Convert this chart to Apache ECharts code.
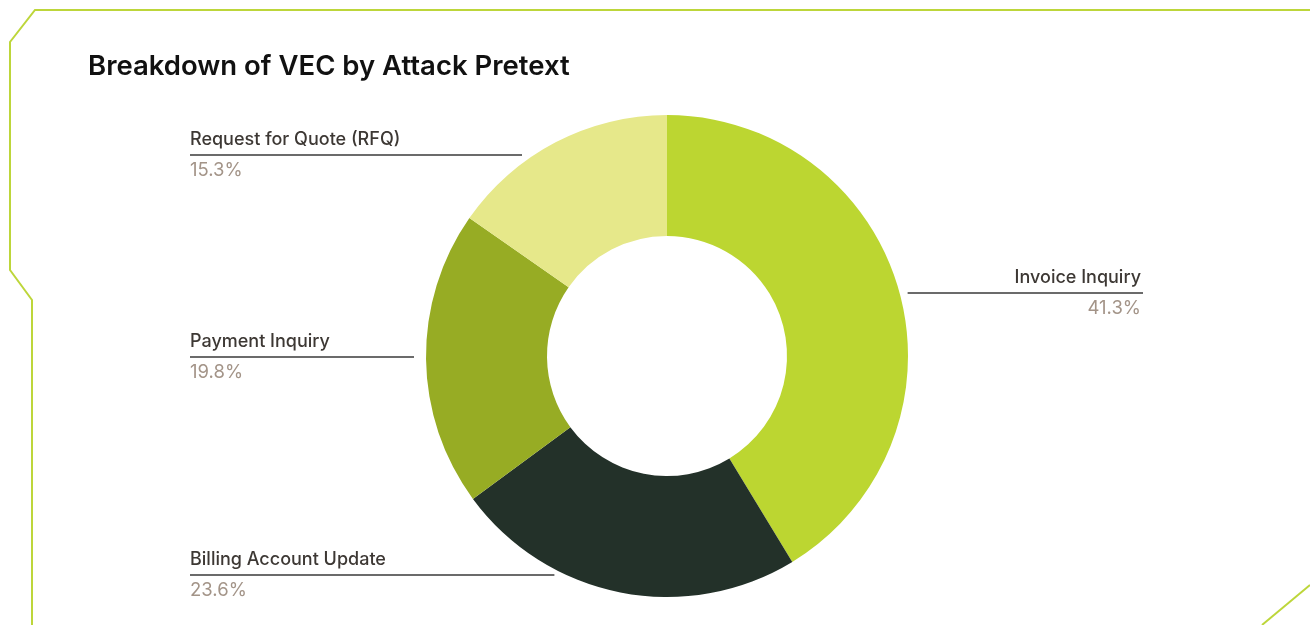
<!DOCTYPE html>
<html>
<head>
<meta charset="utf-8">
<script src="https://cdn.jsdelivr.net/npm/echarts@6/dist/echarts.min.js"></script>
<style>
  html, body { margin: 0; padding: 0; background: #fff; }
  #chart { width: 1310px; height: 625px; }
</style>
</head>
<body>
<div id="chart"></div>
<script>
// pretext categories, clockwise from 12 o'clock
const categories = ['Invoice Inquiry', 'Billing Account Update', 'Payment Inquiry', 'Request for Quote (RFQ)'];
const shares = [41.3, 23.6, 19.8, 15.3]; // percent of VEC attacks
const sliceColors = ['#BCD631', '#233129', '#97AC24', '#E6E88A'];

// label placement (annotation layout, not data)
const labelSide = ['right', 'left', 'left', 'left'];
const labelLineY = [293, 575, 357, 155];
const pieCenter = [667, 356];
const pieRadius = [120, 241];
const leftEdge = 190, rightEdge = 1143, lineGap = 12;

const chart = echarts.init(document.getElementById('chart'));

const option = {
    backgroundColor: '#fff',
    animation: false,
    title: {
        text: 'Breakdown of VEC by Attack Pretext',
        left: 88,
        top: 53,
        padding: 0,
        textStyle: { fontFamily: 'Inter', fontSize: 27.5, fontWeight: 600, color: '#111' }
    },
    graphic: [
        { // frame, top-left
            type: 'polyline',
            silent: true,
            shape: { points: [[1310, 10], [35, 10], [10, 42], [10, 270], [32, 300], [32, 625]] },
            style: { stroke: '#BDD63A', lineWidth: 2, fill: null }
        },
        { // frame, bottom-right corner
            type: 'line',
            silent: true,
            shape: { x1: 1262, y1: 625, x2: 1310, y2: 585 },
            style: { stroke: '#BDD63A', lineWidth: 2 }
        }
    ],
    series: [{
        type: 'pie',
        center: pieCenter,
        radius: pieRadius,
        startAngle: 90,
        clockwise: true,
        avoidLabelOverlap: false,
        data: categories.map((name, i) => ({
            name: name,
            value: shares[i],
            itemStyle: { color: sliceColors[i] }
        })),
        label: {
            show: true,
            position: 'outside',
            formatter: p => '{name|' + p.name + '}\n{pct|' + p.value.toFixed(1) + '%}',
            rich: {
                name: { fontFamily: 'Inter', fontSize: 18, fontWeight: 500, color: '#3d3834', lineHeight: 30 },
                pct: { fontFamily: 'Inter', fontSize: 18.5, color: '#a39488', lineHeight: 30 }
            }
        },
        labelLine: {
            show: true,
            lineStyle: { color: '#3a3a3a', width: 1.3 }
        },
        labelLayout: function (params) {
            const i = params.dataIndex;
            const y = labelLineY[i];
            const dy = y - pieCenter[1];
            const half = Math.sqrt(Math.max(pieRadius[1] * pieRadius[1] - dy * dy, 0));
            const right = labelSide[i] === 'right';
            const near = right ? pieCenter[0] + half + lineGap - 4 : pieCenter[0] - half - lineGap;
            const far = right ? rightEdge : leftEdge;
            return {
                x: right ? far - 2 : far,
                y: y,
                align: right ? 'right' : 'left',
                verticalAlign: 'middle',
                labelLinePoints: [[near, y], [near, y], [far, y]]
            };
        }
    }]
};

chart.setOption(option);
</script>
</body>
</html>
